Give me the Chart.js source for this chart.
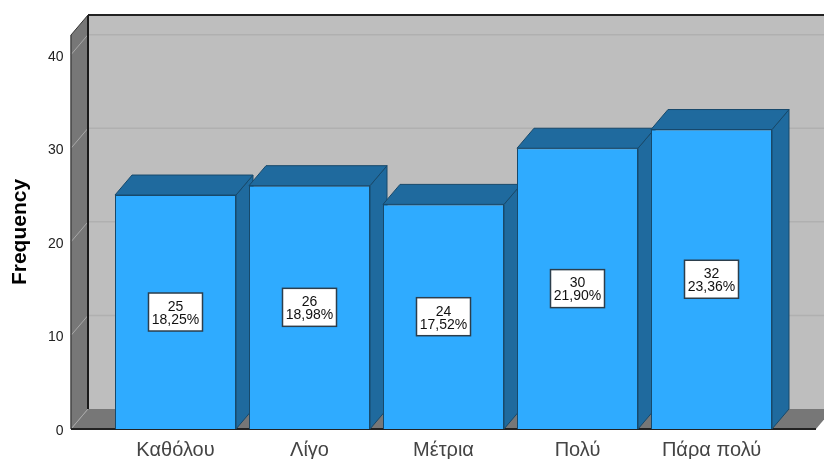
<!DOCTYPE html>
<html>
<head>
<meta charset="utf-8">
<style>
    body { margin: 0; background: #fff; }
    canvas { display: block; }
</style>
<script src="https://cdn.jsdelivr.net/npm/chart.js@4"></script>
</head>
<body>
<canvas id="frequency-bar" width="824" height="459"></canvas>
<script>
var categories = ['Καθόλου', 'Λίγο', 'Μέτρια', 'Πολύ', 'Πάρα πολύ'];
var counts = [25, 26, 24, 30, 32];
var percents = ['18,25%', '18,98%', '17,52%', '21,90%', '23,36%'];

// depth of the fake 3d box, in pixels
var depthX = 17;
var depthY = 20;

function poly(ctx, pts, fill, stroke) {
    ctx.beginPath();
    ctx.moveTo(pts[0][0], pts[0][1]);
    for (var i = 1; i < pts.length; i++) {
        ctx.lineTo(pts[i][0], pts[i][1]);
    }
    ctx.closePath();
    ctx.fillStyle = fill;
    ctx.fill();
    if (stroke) {
        ctx.strokeStyle = stroke;
        ctx.lineWidth = 1;
        ctx.stroke();
    }
}

function line(ctx, x1, y1, x2, y2, color, width) {
    ctx.beginPath();
    ctx.moveTo(x1, y1);
    ctx.lineTo(x2, y2);
    ctx.strokeStyle = color;
    ctx.lineWidth = width;
    ctx.stroke();
}

var box3d = {
    id: 'box3d',
    beforeDatasetsDraw: function(chart) {
        var ctx = chart.ctx;
        var y = chart.scales.y;
        var left = 71;
        var right = 816;
        var top = y.getPixelForValue(y.max);
        var base = y.getPixelForValue(0);
        ctx.save();

        // back wall, left wall, floor
        poly(ctx, [[left + depthX, top - depthY], [right + depthX, top - depthY], [right + depthX, base - depthY], [left + depthX, base - depthY]], '#bebebe');
        poly(ctx, [[left, top], [left + depthX, top - depthY], [left + depthX, base - depthY], [left, base]], '#777777');
        poly(ctx, [[left, base], [left + depthX, base - depthY], [right + depthX, base - depthY], [right, base]], '#777777');

        y.ticks.forEach(function(t) {
            var py = y.getPixelForValue(t.value);
            line(ctx, left, py, left + depthX, py - depthY, '#a8a8a8', 1);
            if (t.value > 0) {
                line(ctx, left + depthX, py - depthY, right + depthX, py - depthY, '#b0b0b0', 1.5);
            }
        });

        line(ctx, left + depthX, top - depthY, right + depthX, top - depthY, '#222222', 2);
        line(ctx, left + depthX, top - depthY, left + depthX, base - depthY, '#1a1a1a', 2);
        line(ctx, left, top, left, base, '#444444', 1.5);
        line(ctx, left, top, left + depthX, top - depthY, '#333333', 1);
        line(ctx, left, base, right, base, '#222222', 2);

        // side and top faces of the bars, left to right
        var bars = chart.getDatasetMeta(0).data;
        bars.forEach(function(bar) {
            var w = bar.width / 2;
            var x1 = bar.x - w;
            var x2 = bar.x + w;
            poly(ctx, [[x2, bar.y], [x2 + depthX, bar.y - depthY], [x2 + depthX, base - depthY], [x2, base]], '#1f6a9e', '#17496b');
            poly(ctx, [[x1, bar.y], [x1 + depthX, bar.y - depthY], [x2 + depthX, bar.y - depthY], [x2, bar.y]], '#1f6a9e', '#17496b');
        });
        ctx.restore();
    },
    afterDatasetsDraw: function(chart) {
        var ctx = chart.ctx;
        var bars = chart.getDatasetMeta(0).data;
        var base = chart.scales.y.getPixelForValue(0);
        ctx.save();
        ctx.font = '14px "Liberation Sans"';
        ctx.textAlign = 'center';
        ctx.textBaseline = 'middle';
        bars.forEach(function(bar, i) {
            var cy = (bar.y + base) / 2;
            ctx.fillStyle = '#ffffff';
            ctx.fillRect(bar.x - 27, cy - 19, 54, 38);
            ctx.strokeStyle = '#2c3e4c';
            ctx.lineWidth = 1.5;
            ctx.strokeRect(bar.x - 27, cy - 19, 54, 38);
            ctx.fillStyle = '#111111';
            ctx.fillText(String(counts[i]), bar.x, cy - 5);
            ctx.fillText(percents[i], bar.x, cy + 8);
        });
        ctx.restore();
    }
};

new Chart(document.getElementById('frequency-bar'), {
    type: 'bar',
    data: {
        labels: categories,
        datasets: [{
            label: 'Frequency',
            data: counts,
            backgroundColor: '#2fabff',
            borderColor: '#17496b',
            borderWidth: 1,
            categoryPercentage: 1,
            barPercentage: 0.903
        }]
    },
    plugins: [box3d],
    options: {
        responsive: false,
        animation: false,
        layout: {
            padding: { top: 35, right: 45.5, bottom: 0, left: 0 }
        },
        plugins: {
            legend: { display: false },
            tooltip: { enabled: false }
        },
        scales: {
            x: {
                grid: { display: false, drawTicks: false },
                border: { display: false },
                afterFit: function(scale) {
                    scale.height = 30;
                    scale.paddingLeft = 0;
                    scale.paddingRight = 0;
                },
                ticks: {
                    color: '#444444',
                    padding: 9,
                    maxRotation: 0,
                    font: { family: '"Liberation Sans"', size: 20 }
                }
            },
            y: {
                min: 0,
                max: 42.1,
                grid: { display: false, drawTicks: false },
                border: { display: false },
                afterFit: function(scale) {
                    scale.width = 108.5;
                    scale.paddingTop = 0;
                    scale.paddingBottom = 0;
                },
                ticks: {
                    stepSize: 10,
                    includeBounds: false,
                    color: '#222222',
                    padding: 45,
                    // empty first line nudges the number down a little
                    callback: function(value) { return ['', String(value)]; },
                    font: { family: '"Liberation Sans"', size: 14, lineHeight: '4px' }
                },
                title: {
                    display: true,
                    text: 'Frequency',
                    color: '#000000',
                    padding: { top: 8, bottom: 0 },
                    font: { family: '"Liberation Sans"', size: 21, weight: 'bold' }
                }
            }
        }
    }
});
</script>
</body>
</html>
